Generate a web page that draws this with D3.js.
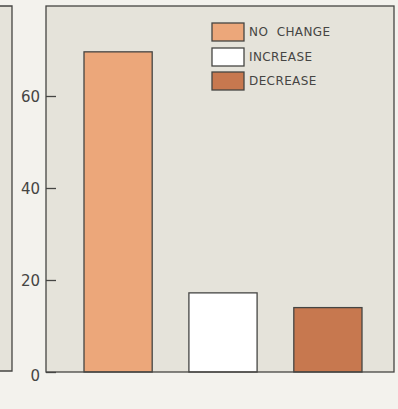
<!DOCTYPE html>
<html><head><meta charset="utf-8">
<script src="https://cdn.jsdelivr.net/npm/d3@7"></script>
<style>
html,body{margin:0;padding:0;background:#f3f2ed;}
svg{display:block;}
</style></head><body>
<script>
const categories = ["NO CHANGE", "INCREASE", "DECREASE"];
const values = [69.6, 17.2, 14.0];
const colors = ["#eca77a", "#ffffff", "#c7784f"];
const tickValues = [0, 20, 40, 60];

(function () {
const W = 398, H = 409;
const svg = d3.select("body").append("svg").attr("width", W).attr("height", H);

const font = "'DejaVu Sans', Verdana, sans-serif";
const ink = "#454543";
const plotFill = "#e5e3da";

// left partial panel
svg.append("rect").attr("x", -2).attr("y", 6).attr("width", 14).attr("height", 365)
  .attr("fill", plotFill);
svg.append("path").attr("d", "M0,6H12V371H0").attr("fill", "none").attr("stroke", ink).attr("stroke-width", 1.3);

const mLeft = 46, mRight = 394, mTop = 6, mBottom = 372;

const y = d3.scaleLinear().domain([0, 80]).range([mBottom, mBottom - 80 * 4.6]);
const x = d3.scaleBand().domain(categories).range([84, 362]).paddingInner(0.35).paddingOuter(0);

svg.append("rect").attr("x", mLeft).attr("y", mTop).attr("width", mRight - mLeft).attr("height", mBottom - mTop)
  .attr("fill", plotFill);

// bars
svg.selectAll("rect.bar").data(categories).join("rect").attr("class", "bar")
  .attr("x", d => x(d)).attr("width", x.bandwidth())
  .attr("y", (d, i) => y(values[i])).attr("height", (d, i) => y(0) - y(values[i]))
  .attr("fill", (d, i) => colors[i]).attr("stroke", ink).attr("stroke-width", 1.3);

// frame
svg.append("rect").attr("x", mLeft).attr("y", mTop).attr("width", mRight - mLeft).attr("height", mBottom - mTop)
  .attr("fill", "none").attr("stroke", ink).attr("stroke-width", 1.3);

// axis
const ax = svg.append("g").attr("transform", `translate(${mLeft},0)`)
  .call(d3.axisLeft(y).tickValues(tickValues).tickSizeInner(-10).tickSizeOuter(0).tickPadding(8));
ax.select(".domain").remove();
ax.selectAll(".tick line").attr("stroke", ink).attr("stroke-width", 1.3)
  .attr("x2", 10);
ax.selectAll(".tick text").attr("fill", ink).style("font-family", font).style("font-size", "15px")
  .attr("x", -6).attr("dy", (d) => d === 0 ? "0.55em" : "0.36em");

// legend
const lg = svg.append("g");
const rowsY = [23, 48, 72];
categories.forEach((c, i) => {
  lg.append("rect").attr("x", 212).attr("y", rowsY[i]).attr("width", 32).attr("height", 18)
    .attr("fill", colors[i]).attr("stroke", ink).attr("stroke-width", 1.3);
  lg.append("text").attr("x", 249).attr("y", rowsY[i] + 9).attr("dy", "0.36em")
    .attr("fill", ink).style("font-family", font).style("font-size", "12px")
    .style("letter-spacing", "0.4px").style("white-space", "pre")
    .text(c.replace(" ", "  "));
});
})();
</script>
</body></html>
